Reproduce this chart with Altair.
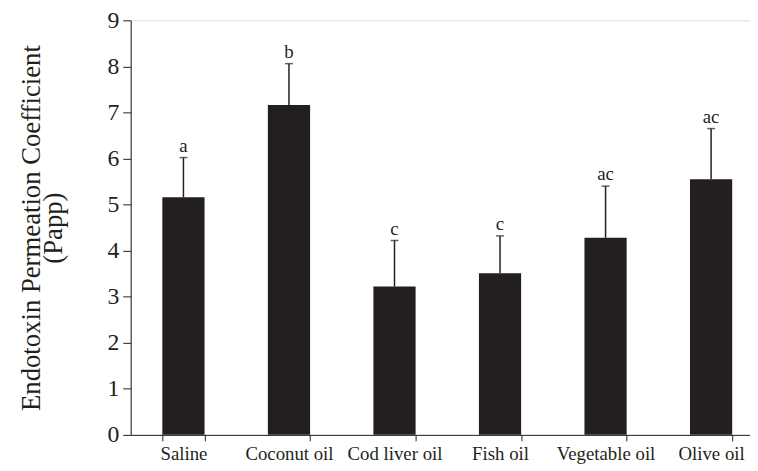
import altair as alt
import pandas as pd

categories = ["Saline", "Coconut oil", "Cod liver oil", "Fish oil", "Vegetable oil", "Olive oil"]
means = [5.16, 7.16, 3.22, 3.51, 4.28, 5.55]
upper = [6.02, 8.06, 4.22, 4.32, 5.40, 6.65]
letters = ["a", "b", "c", "c", "ac", "ac"]
y_ticks = [0, 1, 2, 3, 4, 5, 6, 7, 8, 9]

df = pd.DataFrame({"cat": categories, "mean": means, "upper": upper, "letter": letters})

INK = "#231f20"
FONT = "Liberation Serif"

x = alt.X("cat:N", sort=categories, title=None,
          scale=alt.Scale(range=[0, 640], paddingInner=0.6, paddingOuter=0.3),
          axis=alt.Axis(labelAngle=0, labelFontSize=19, labelFont=FONT, labelColor=INK,
                        tickBand="extent", tickSize=6, tickColor=INK, domainColor=INK,
                        labelPadding=4, tickWidth=1, domainWidth=1))
y = alt.Y("mean:Q", scale=alt.Scale(domain=[0, 9], nice=False),
          title=["Endotoxin Permeation Coefficient", "(Papp)"],
          axis=alt.Axis(values=y_ticks, labelFontSize=24, labelFont=FONT, labelColor=INK,
                        tickSize=8, tickColor=INK, domainColor=INK, labelPadding=4,
                        grid=False, titleFont=FONT, titleFontSize=27, titleFontWeight="normal",
                        titleColor=INK, titlePadding=40, titleLineHeight=22,
                        tickWidth=1, domainWidth=1))

bars = alt.Chart(df).mark_bar(color=INK).encode(x=x, y=y)
err = alt.Chart(df).mark_rule(color=INK, strokeWidth=1.5).encode(
    x=alt.X("cat:N", sort=categories), y="mean:Q", y2="upper:Q")
cap = alt.Chart(df).mark_tick(color=INK, size=8, thickness=1.5).encode(
    x=alt.X("cat:N", sort=categories), y="upper:Q")
txt = alt.Chart(df).mark_text(font=FONT, fontSize=19, color=INK, baseline="alphabetic", dy=-6).encode(
    x=alt.X("cat:N", sort=categories), y="upper:Q", text="letter:N")

chart = alt.layer(bars, err, cap, txt).properties(
    width=626, height=419,
    autosize=alt.AutoSizeParams(type="none"),
    padding={"left": 124, "top": 10, "right": 0, "bottom": 30},
).configure_view(stroke=None).configure(background="white")

chart.save("out.html", embed_options={"renderer": "svg", "actions": False})
